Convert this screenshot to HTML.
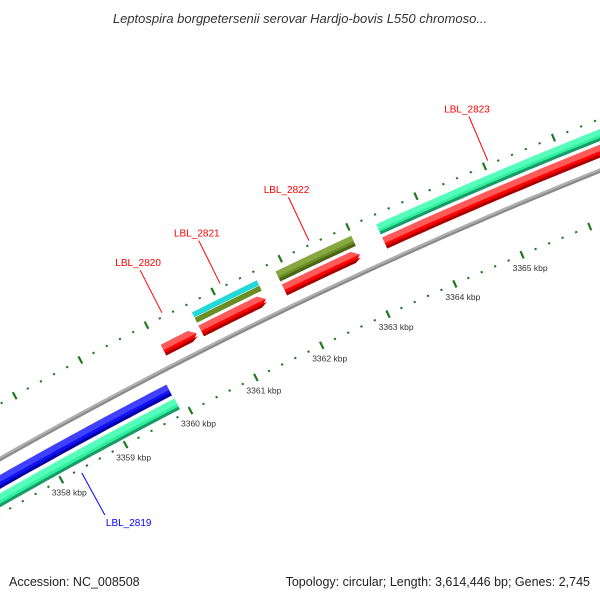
<!DOCTYPE html>
<html><head><meta charset="utf-8">
<style>
html,body{margin:0;padding:0;background:#fff;}
svg{display:block;font-family:"Liberation Sans","DejaVu Sans",sans-serif;}
</style></head>
<body>
<svg id="map" width="600" height="600" viewBox="0 0 600 600" xmlns="http://www.w3.org/2000/svg">
<rect width="600" height="600" fill="#fff"/>
<text x="300" y="23" text-anchor="middle" font-size="13" font-style="italic" fill="#333">Leptospira borgpetersenii serovar Hardjo-bovis L550 chromoso...</text>
<g id="ticks"></g>
<g id="features"></g>
<g id="labels"></g>
<text x="9" y="586" font-size="12.5" fill="#222">Accession: NC_008508</text>
<text x="590" y="586" text-anchor="end" font-size="12.5" fill="#222">Topology: circular; Length: 3,614,446 bp; Genes: 2,745</text>
</svg>
<script>
// ---- data ----
const geneNames  = ["LBL_2819","LBL_2819b","LBL_2820","LBL_2821","LBL_2821a","LBL_2821b","LBL_2822","LBL_2822a","LBL_2823","LBL_2823a"];
const geneStarts = [3355.0, 3355.0, 3360.05, 3360.62, 3360.62, 3360.62, 3361.87, 3361.87, 3363.36, 3363.36];
const geneEnds   = [3359.87, 3359.88, 3360.55, 3361.59, 3361.59, 3361.59, 3362.99, 3362.99, 3368.0, 3368.0];
const geneTracks = ["in1","in2","out1","out1","out2hi","out2lo","out1","out2","out1","out2"];
const geneColors = ["blue","green","red","red","cyan","olive","red","olive","red","green"];
const geneArrows = [false,false,true,true,false,false,true,false,false,false];
const tickMajor = [3358,3359,3360,3361,3362,3363,3364,3365];
const tickLabels = ["3358 kbp","3359 kbp","3360 kbp","3361 kbp","3362 kbp","3363 kbp","3364 kbp","3365 kbp"];
const labelNames = ["LBL_2819","LBL_2820","LBL_2821","LBL_2822","LBL_2823"];
const labelKbp   = [3358.29, 3360.26, 3361.13, 3362.45, 3365.07];
const labelColor = ["#0000ff","#ff0000","#ff0000","#ff0000","#ff0000"];
const labelSide  = [-1, 1, 1, 1, 1];

// ---- geometry ----
const R = 5000, PXK = 74, K0 = 3362, P = [301, 302];
const a0 = Math.atan2(-0.902, -0.432);
const C = [P[0] - R*Math.cos(a0), P[1] - R*Math.sin(a0)];
function pt(k, v){ const a = a0 + (k - K0)*PXK/R; return [C[0] + (R+v)*Math.cos(a), C[1] + (R+v)*Math.sin(a)]; }
const trackV = {in1:-20, in2:-36, out1:18, out2:33, out2hi:36, out2lo:30};
const trackH = {in1:12, in2:12, out1:12, out2:11, out2hi:5.5, out2lo:5.5};
const palette = {
  blue:["#1010f0","#4040ff","#0000a8"], green:["#2ef0a0","#55ffbb","#1a9a66"],
  red:["#ff0000","#ff5a5a","#a80000"], cyan:["#22d8d8","#55eeee","#119999"],
  olive:["#6b8e23","#86a840","#4a6418"]
};
const NS = "http://www.w3.org/2000/svg";
function poly(k1, k2, vlo, vhi, arrow, vmid, fill){
  const aw = arrow ? 7/PXK : 0, pts = [], n = 40;
  const kb = k2 - aw;
  for (let i=0;i<=n;i++){ pts.push(pt(k1 + (kb-k1)*i/n, vhi)); }
  if (arrow){ pts.push(pt(k2, vmid)); }
  for (let i=n;i>=0;i--){ pts.push(pt(k1 + (kb-k1)*i/n, vlo)); }
  const p = document.createElementNS(NS, "polygon");
  p.setAttribute("points", pts.map(q=>q[0].toFixed(1)+","+q[1].toFixed(1)).join(" "));
  p.setAttribute("fill", fill);
  return p;
}
const fg = document.getElementById("features");
{
  const bb = poly(3354, 3369, -2.2, 2.2, false, 0, "#8a8a8a");
  
  
  fg.appendChild(bb);
  const hl = poly(3354, 3369, 0, 2.2, false, 0, "#b0b0b0");
  
  
  fg.appendChild(hl);
}
for (let i=0;i<geneNames.length;i++){
  const v = trackV[geneTracks[i]], h = trackH[geneTracks[i]], c = palette[geneColors[i]];
  const g = document.createElementNS(NS, "g");
  
  
  const ar = geneArrows[i];
  g.appendChild(poly(geneStarts[i], geneEnds[i], v-h/2, v+h/2, ar, v, c[0]));
  if (h > 8){
    g.appendChild(poly(geneStarts[i], geneEnds[i], v, v+h/2, ar, v, c[1]));
    g.appendChild(poly(geneStarts[i], geneEnds[i], v-h/2, v-h/2+3, ar, v-h/2+3, c[2]));
  }
  fg.appendChild(g);
}
// ticks
const tg = document.getElementById("ticks");
for (const side of [-1, 1]){
  const vt = side*48;
  for (let k=3354; k<=3368.001; k+=0.2){
    const kk = Math.round(k*10)/10;
    const major = Math.abs(kk - Math.round(kk)) < 1e-6;
    const l = document.createElementNS(NS, "line");
    const a = pt(kk, vt + (major?4:1)), b = pt(kk, vt - (major?4:1));
    l.setAttribute("x1", a[0]); l.setAttribute("y1", a[1]);
    l.setAttribute("x2", b[0]); l.setAttribute("y2", b[1]);
    l.setAttribute("stroke", "#1f7a1f"); l.setAttribute("stroke-width", 2.2);
    
    
    tg.appendChild(l);
  }
}
for (let i=0;i<tickMajor.length;i++){
  const q = pt(tickMajor[i], -48);
  const t = document.createElementNS(NS, "text");
  t.setAttribute("x", (q[0]+8).toFixed(1)); t.setAttribute("y", (q[1]+16).toFixed(1));
  t.setAttribute("text-anchor", "middle"); t.setAttribute("font-size", "8.5"); t.setAttribute("fill", "#333");
  t.textContent = tickLabels[i];
  
  
  tg.appendChild(t);
}
// labels
const lg = document.getElementById("labels");
for (let i=0;i<labelNames.length;i++){
  const s = labelSide[i];
  const a = pt(labelKbp[i], s*52), b = pt(labelKbp[i], s*100);
  const l = document.createElementNS(NS, "line");
  l.setAttribute("x1", a[0]); l.setAttribute("y1", a[1]); l.setAttribute("x2", b[0]); l.setAttribute("y2", b[1]);
  l.setAttribute("stroke", labelColor[i]); l.setAttribute("stroke-width", "1");
  
  
  lg.appendChild(l);
  const t = document.createElementNS(NS, "text");
  if (s > 0){
    t.setAttribute("x", (b[0]-2).toFixed(1)); t.setAttribute("y", (b[1]-4).toFixed(1));
    t.setAttribute("text-anchor", "middle");
  } else {
    t.setAttribute("x", (b[0]+1).toFixed(1)); t.setAttribute("y", (b[1]+11).toFixed(1));
    t.setAttribute("text-anchor", "start");
  }
  t.setAttribute("font-size", "10"); t.setAttribute("fill", labelColor[i]);
  t.textContent = labelNames[i];
  
  
  lg.appendChild(t);
}
</script>
</body></html>
